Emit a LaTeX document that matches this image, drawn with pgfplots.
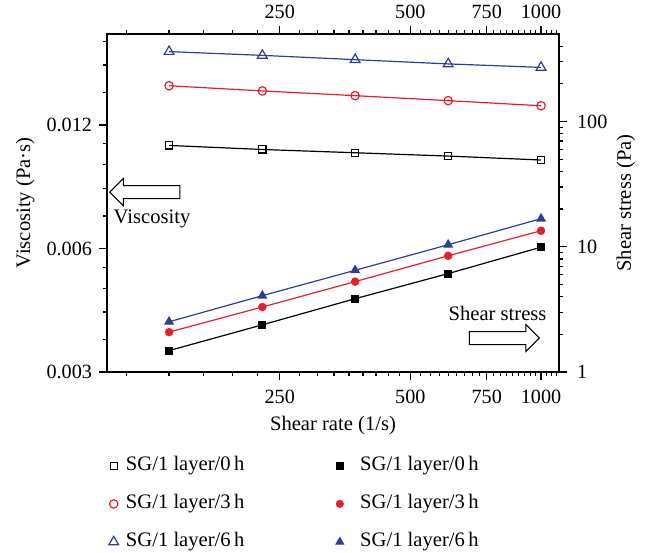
\documentclass[border=0pt]{standalone}
\usepackage{fontspec}
\setmainfont{Liberation Serif}
\usepackage{pgfplots}
\pgfplotsset{compat=1.18}
\usetikzlibrary{shapes.arrows}
\definecolor{sgred}{RGB}{230,30,40}
\definecolor{sgblue}{RGB}{44,62,150}

\pgfplotsset{
  every axis/.append style={
    scale only axis, width=226pt, height=169pt,
    xmin=100, xmax=1100,
    xtick={250,500,750,1000}, xticklabels={250,500,750,1000},
    minor xtick={111.11,138.89,166.67,194.44,222.22,277.78,305.56,333.33,361.11,388.89,
      416.67,444.44,472.22,527.78,555.56,583.33,611.11,638.89,666.67,694.44,722.22,
      777.78,805.56,833.33,861.11,888.89,916.67,944.44,972.22,1027.78,1055.56,1083.33},
    tick align=outside, major tick length=4pt, minor tick length=2pt,
    axis line style={line width=0.7pt},
    every tick/.style={line width=0.6pt, black},
    tick label style={font=\fontsize{10.1}{12}\selectfont},
    label style={font=\fontsize{10.3}{12}\selectfont},
  },
}

\begin{document}
\begin{tikzpicture}
% viscosity, left axis (open marks)
\begin{loglogaxis}[name=ax1,
    ymin=0.003, ymax=0.02,
    ytick={0.003,0.006,0.012}, yticklabels={0.003,0.006,0.012},
    minor ytick={0.0036,0.0042,0.0048,0.0054,0.0072,0.0084,0.0096,0.0108,0.0144,0.0168,0.0192},
    xtick pos=bottom, ytick pos=left,
    xticklabel style={yshift=-1.5pt},
    xlabel={Shear rate (1/s)},
    ylabel={Viscosity (Pa·s)},
    xlabel style={at={(axis description cs:0.5,-0.157)}, anchor=center},
    ylabel style={at={(axis description cs:-0.181,0.5)}, anchor=center},
]
\addplot[black, line width=0.6pt, mark=square, mark size=1.8pt, mark options={solid, fill=white}] coordinates {
    (139, 0.01070) (228, 0.01046) (373, 0.01027) (611, 0.01008) (1000, 0.00986)};
\addplot[sgred, line width=0.6pt, mark=o, mark size=2.1pt, mark options={solid, fill=white}] coordinates {
    (139, 0.01496) (228, 0.01453) (373, 0.01415) (611, 0.01376) (1000, 0.01337)};
\addplot[sgblue, line width=0.6pt, mark=triangle, mark size=2.8pt, mark options={solid, fill=white}] coordinates {
    (139, 0.01812) (228, 0.01774) (373, 0.01732) (611, 0.01691) (1000, 0.01658)};
\end{loglogaxis}
% shear stress, right axis (filled marks)
\begin{loglogaxis}[
    ymin=1, ymax=500,
    ytick={1,10,100}, yticklabels={1,10,100},
    minor ytick={2,3,4,5,6,7,8,9,20,30,40,50,60,70,80,90,200,300,400},
    xtick pos=top, xticklabel pos=upper,
    ytick pos=right, yticklabel pos=right,
    yticklabel style={xshift=1.5pt},
    ylabel={Shear stress (Pa)},
    ylabel style={at={(axis description cs:1.148,0.5)}, anchor=center},
    legend columns=2,
    legend style={draw=none, fill=none, inner sep=0pt,
      at={(axis description cs:0.0033,-0.243)}, anchor=north west,
      font=\fontsize{10.3}{12}\selectfont,
      nodes={inner sep=1.2pt, text height=7pt, text depth=2pt},
      row sep=7.6pt,
      /tikz/column 1/.style={column sep=2.5pt},
      /tikz/column 2/.style={column sep=44.5pt},
      /tikz/column 3/.style={column sep=7pt}},
]
\addplot[black, line width=0.6pt, mark=square*, mark size=1.7pt, forget plot] coordinates {
    (139, 1.482) (228, 2.381) (373, 3.849) (611, 6.108) (1000, 9.93)};
\addplot[sgred, line width=0.6pt, mark=*, mark size=1.8pt, forget plot] coordinates {
    (139, 2.082) (228, 3.304) (373, 5.27) (611, 8.47) (1000, 13.44)};
\addplot[sgblue, line width=0.6pt, mark=triangle*, mark size=2.3pt, forget plot] coordinates {
    (139, 2.518) (228, 4.07) (373, 6.49) (611, 10.38) (1000, 16.77)};

\addlegendimage{only marks, black, mark=square, mark size=1.8pt, line width=0.6pt}
\addlegendentry{SG/1 layer/0\,h}
\addlegendimage{only marks, black, mark=square*, mark size=1.7pt}
\addlegendentry{SG/1 layer/0\,h}
\addlegendimage{only marks, sgred, mark=o, mark size=2.1pt, line width=0.6pt}
\addlegendentry{SG/1 layer/3\,h}
\addlegendimage{only marks, sgred, mark=*, mark size=1.8pt}
\addlegendentry{SG/1 layer/3\,h}
\addlegendimage{only marks, sgblue, mark=triangle, mark size=2.8pt, line width=0.6pt}
\addlegendentry{SG/1 layer/6\,h}
\addlegendimage{only marks, sgblue, mark=triangle*, mark size=2.3pt}
\addlegendentry{SG/1 layer/6\,h}

% direction arrows
\node[draw, single arrow, shape border rotate=180, minimum height=35pt,
      inner sep=3pt, single arrow head extend=3.5pt, line width=0.5pt, fill=white]
      at (rel axis cs:0.0907,0.532) {};
\node[font=\fontsize{10.3}{12}\selectfont] at (rel axis cs:0.0996,0.452) {Viscosity};
\node[draw, single arrow, minimum height=35pt,
      inner sep=3pt, single arrow head extend=3.5pt, line width=0.5pt, fill=white]
      at (rel axis cs:0.872,0.1006) {};
\node[font=\fontsize{10.3}{12}\selectfont] at (rel axis cs:0.864,0.1746) {Shear stress};
\end{loglogaxis}
% page frame as in the reference
\pgfresetboundingbox
\path (ax1.south west) ++(-53.5pt,-90pt) rectangle ++(329pt,276pt);
\end{tikzpicture}
\end{document}
